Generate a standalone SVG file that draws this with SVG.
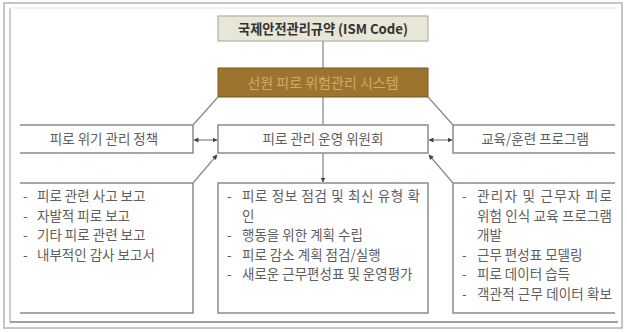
<svg xmlns="http://www.w3.org/2000/svg" width="627" height="332" viewBox="0 0 627 332">
<style>
text{font-family:"Malgun Gothic","Noto Sans CJK KR","Noto Sans",sans-serif;fill:#5e5e5e;font-size:13px}
.c{text-anchor:middle}
.l text{font-size:13.5px}
.ln{stroke:#8c8c8c;stroke-width:1.5;fill:none}
.cn{stroke:#8c8c8c;stroke-width:1.3;fill:none}
</style>
<defs>
<marker id="ah" viewBox="0 0 10 10" refX="9" refY="5" markerWidth="5" markerHeight="5" orient="auto-start-reverse" markerUnits="userSpaceOnUse">
<path d="M0,0 L10,5 L0,10 z" fill="#444"/>
</marker>
</defs>
<rect x="0" y="0" width="627" height="332" fill="#fff"/>
<g id="frame">
<rect x="4" y="3" width="618" height="325" fill="none" stroke="#b4b4b4" stroke-width="1.5"/>
<line x1="10" y1="8" x2="10" y2="322" stroke="#cfcfcf" stroke-width="2"/>
<line x1="10" y1="8" x2="617" y2="8" stroke="#eeeeee" stroke-width="1.5"/>
<line x1="10" y1="322" x2="618" y2="322" stroke="#a0a0a0" stroke-width="2"/>
</g>
<g id="connectors">
<line class="cn" x1="323" y1="41" x2="323" y2="68"/>
<line class="cn" x1="218" y1="97" x2="193" y2="125"/>
<line class="cn" x1="428" y1="97" x2="453" y2="125"/>
<line class="cn" x1="323" y1="97" x2="323" y2="125"/>
<line class="cn" x1="194" y1="140" x2="217" y2="140" marker-start="url(#ah)" marker-end="url(#ah)"/>
<line class="cn" x1="429" y1="140" x2="452" y2="140" marker-start="url(#ah)" marker-end="url(#ah)"/>
<line class="cn" x1="193" y1="183" x2="217" y2="155" marker-end="url(#ah)"/>
<line class="cn" x1="453" y1="183" x2="429" y2="155" marker-end="url(#ah)"/>
<line class="cn" x1="323" y1="153" x2="323" y2="182" marker-end="url(#ah)"/>
</g>
<g id="ism">
<rect x="218" y="16" width="210" height="25" fill="#e8e6d6" stroke="#b0b0a8" stroke-width="1.2"/>
<text class="c" x="323" y="33.5" style="font-weight:bold;fill:#333;font-size:13.5px" textLength="170" lengthAdjust="spacingAndGlyphs">국제안전관리규약 (ISM Code)</text>
</g>
<g id="system">
<rect x="218" y="68" width="210" height="29" fill="#9c742e" stroke="#7a5a20" stroke-width="1"/>
<text class="c" x="323" y="87.5" style="fill:#cdac6a;font-size:14px">선원 피로 위험관리 시스템</text>
</g>
<g id="policy">
<path class="ln" d="M20,125 H193 V153 H20"/>
<text class="c" x="104" y="144" style="font-size:13.5px">피로 위기 관리 정책</text>
</g>
<g id="committee">
<rect class="ln" x="218" y="125" width="210" height="28"/>
<text class="c" x="323" y="144" style="font-size:13.5px">피로 관리 운영 위원회</text>
</g>
<g id="training">
<path class="ln" d="M615,125 H453 V153 H615"/>
<text class="c" x="535" y="144" style="font-size:13.5px">교육/훈련 프로그램</text>
</g>
<g id="reports" class="l">
<path class="ln" d="M20,183 H193 V313 H20"/>
<text x="23" y="201">-</text><text x="37" y="201">피로 관련 사고 보고</text>
<text x="23" y="220.5">-</text><text x="37" y="220.5">자발적 피로 보고</text>
<text x="23" y="240">-</text><text x="37" y="240">기타 피로 관련 보고</text>
<text x="23" y="259.5">-</text><text x="37" y="259.5">내부적인 감사 보고서</text>
</g>
<g id="actions" class="l">
<rect class="ln" x="218" y="183" width="210" height="130"/>
<text x="227" y="201">-</text><text x="242" y="201" textLength="178" lengthAdjust="spacing">피로 정보 점검 및 최신 유형 확</text>
<text x="242" y="220.5">인</text>
<text x="227" y="240">-</text><text x="242" y="240">행동을 위한 계획 수립</text>
<text x="227" y="259.5">-</text><text x="242" y="259.5">피로 감소 계획 점검/실행</text>
<text x="227" y="279">-</text><text x="242" y="279">새로운 근무편성표 및 운영평가</text>
</g>
<g id="programs" class="l">
<path class="ln" d="M615,183 H453 V313 H615"/>
<text x="462" y="201">-</text><text x="477" y="201" textLength="135" lengthAdjust="spacing">관리자 및 근무자 피로</text>
<text x="477" y="220.5" textLength="135" lengthAdjust="spacing">위험 인식 교육 프로그램</text>
<text x="477" y="240">개발</text>
<text x="462" y="259.5">-</text><text x="477" y="259.5">근무 편성표 모델링</text>
<text x="462" y="279">-</text><text x="477" y="279">피로 데이터 습득</text>
<text x="462" y="298.5">-</text><text x="477" y="298.5" textLength="135" lengthAdjust="spacing">객관적 근무 데이터 확보</text>
</g>
</svg>
